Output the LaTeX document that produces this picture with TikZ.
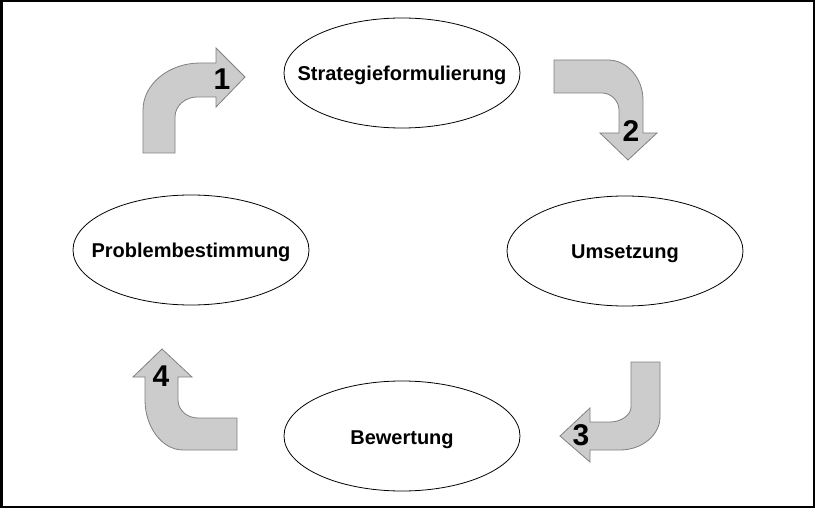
\documentclass[tikz,border=0pt]{standalone}
\usepackage{fontspec}
\setmainfont{Liberation Sans}
\usetikzlibrary{shapes.geometric, positioning}

\definecolor{arrowfill}{gray}{0.8}
\definecolor{arrowline}{gray}{0.5}
\newcommand{\phasename}[1]{\makebox[0pt]{\raisebox{-8pt}[0pt][0pt]{#1}}}

\begin{document}
\begin{tikzpicture}[x=1pt, y=-1pt,
	phase/.style={ellipse, draw, line width=0.8pt, minimum width=236pt, minimum height=110pt, inner sep=0pt, font=\bfseries\fontsize{20}{24}\selectfont},
	turn/.style={fill=arrowfill, draw=arrowline, line width=0.8pt},
	num/.style={font=\bfseries\fontsize{30}{30}\selectfont, inner sep=0pt}]

	\useasboundingbox (0,0) rectangle (815,508);
	\draw[line width=2.5pt] (1.25,1.25) rectangle (813.75,506.75);

	\node[phase] (strat) at (402,73) {\phasename{Strategieformulierung}};
	\node[phase] (umset) at (625,251) {\phasename{Umsetzung}};
	\node[phase] (bewert) at (402,436) {\phasename{Bewertung}};
	\node[phase] (problem) at (191,250) {\phasename{Problembestimmung}};

	% 1
	\draw[turn] (143,153) -- (143,110) .. controls (143,84) and (169,63) .. (200,63)
		-- (216,63) -- (216,48) -- (245,77) -- (216,107) -- (216,97) -- (197,97)
		.. controls (185,97) and (175,106) .. (175,117) -- (175,153) -- cycle;
	% 2
	\draw[turn] (554,60) -- (608,60) .. controls (627,60) and (643,78) .. (643,100)
		-- (643,133) -- (657,133) -- (628,160) -- (600,133) -- (619,133) -- (619,110)
		.. controls (619,101) and (611,93) .. (602,93) -- (554,93) -- cycle;
	% 3
	\draw[turn] (631,362) -- (660,362) -- (660,417) .. controls (660,435) and (642,450) .. (620,450)
		-- (590,450) -- (590,462) -- (560,436) -- (590,408) -- (590,422) -- (610,422)
		.. controls (621,422) and (631,415) .. (631,407) -- cycle;
	% 4
	\draw[turn] (237,418) -- (237,450) -- (183,450) .. controls (162,450) and (145,427) .. (145,400)
		-- (145,377) -- (133,377) -- (162,349) -- (192,377) -- (178,377) -- (178,400)
		.. controls (178,410) and (187,418) .. (198,418) -- cycle;

	\node[num] (n1) at (222,79) {1};
	\node[num] (n2) at (631,131) {2};
	\node[num] (n3) at (581,435) {3};
	\node[num] (n4) at (161,376) {4};
\end{tikzpicture}
\end{document}
